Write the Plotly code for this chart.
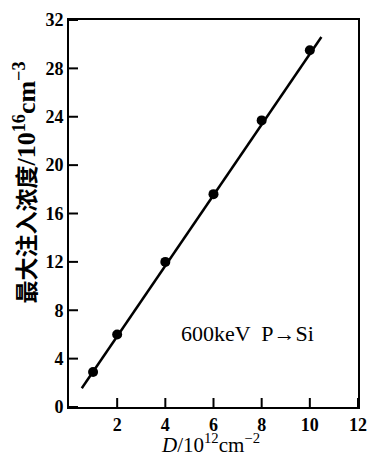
import plotly.graph_objects as go

dose = [1, 2, 4, 6, 8, 10]
conc = [2.9, 6.0, 12.0, 17.6, 23.7, 29.5]
fit_x = [0.53, 10.48]
fit_y = [1.55, 30.6]
x_ticks = [2, 4, 6, 8, 10, 12]
y_ticks = [0, 4, 8, 12, 16, 20, 24, 28, 32]

serif = "Liberation Serif, DejaVu Serif, serif"
X_RANGE = [0, 12]
Y_RANGE = [0, 32]
W, H = 370, 457
ML, MR, MT, MB = 69, 12, 20, 50
TICK_PX = 9

# inward tick marks built from the tick lists (length in data units from pixel size)
dx = TICK_PX * (X_RANGE[1] - X_RANGE[0]) / (W - ML - MR)
dy = TICK_PX * (Y_RANGE[1] - Y_RANGE[0]) / (H - MT - MB)
tick_x, tick_y = [], []
for v in y_ticks:
    tick_x += [X_RANGE[0], X_RANGE[0] + dx, None]
    tick_y += [v, v, None]
for v in x_ticks:
    tick_x += [v, v, None]
    tick_y += [Y_RANGE[0], Y_RANGE[0] + dy, None]

fig = go.Figure()
fig.add_trace(go.Scatter(x=tick_x, y=tick_y, mode="lines", cliponaxis=False,
                         line=dict(color="black", width=2), hoverinfo="skip", showlegend=False))
fig.add_trace(go.Scatter(x=fit_x, y=fit_y, mode="lines",
                         line=dict(color="black", width=2.5), showlegend=False))
fig.add_trace(go.Scatter(x=dose, y=conc, mode="markers",
                         marker=dict(color="black", size=10), showlegend=False))

fig.add_annotation(x=7.4, y=6.1, text="600keV  P→Si", showarrow=False,
                   font=dict(family=serif, size=22, color="black"))

fig.add_annotation(xref="paper", yref="paper", x=0, y=0.58, xanchor="center", yanchor="middle",
                   xshift=-44, textangle=-90, showarrow=False,
                   text="<b>最大注入浓度</b><span style='font-family:Liberation Serif;font-size:26px'>"
                        "<b>/10<sup>16</sup>cm<sup>−3</sup></b></span>",
                   font=dict(family="Noto Sans CJK SC, " + serif, size=23, color="black"))

fig.add_annotation(xref="paper", yref="paper", x=0.488, y=0, xanchor="center", yanchor="middle",
                   yshift=-36, showarrow=False,
                   text="<i>D</i>/10<sup>12</sup>cm<sup>−2</sup>",
                   font=dict(family=serif, size=21, color="black"))

base = dict(showline=True, linecolor="black", linewidth=2, mirror=True,
            ticks="", showgrid=False, zeroline=False, automargin=False,
            tickfont=dict(family=serif, size=18, color="black", weight="bold"))

fig.update_xaxes(range=X_RANGE, tickvals=x_ticks, ticktext=[str(v) for v in x_ticks], **base)
fig.update_yaxes(range=Y_RANGE, tickvals=y_ticks, ticktext=[str(v) for v in y_ticks], **base)

fig.update_layout(width=W, height=H,
                  margin=dict(l=ML, r=MR, t=MT, b=MB),
                  paper_bgcolor="white", plot_bgcolor="white")

fig.write_html("out.html")
